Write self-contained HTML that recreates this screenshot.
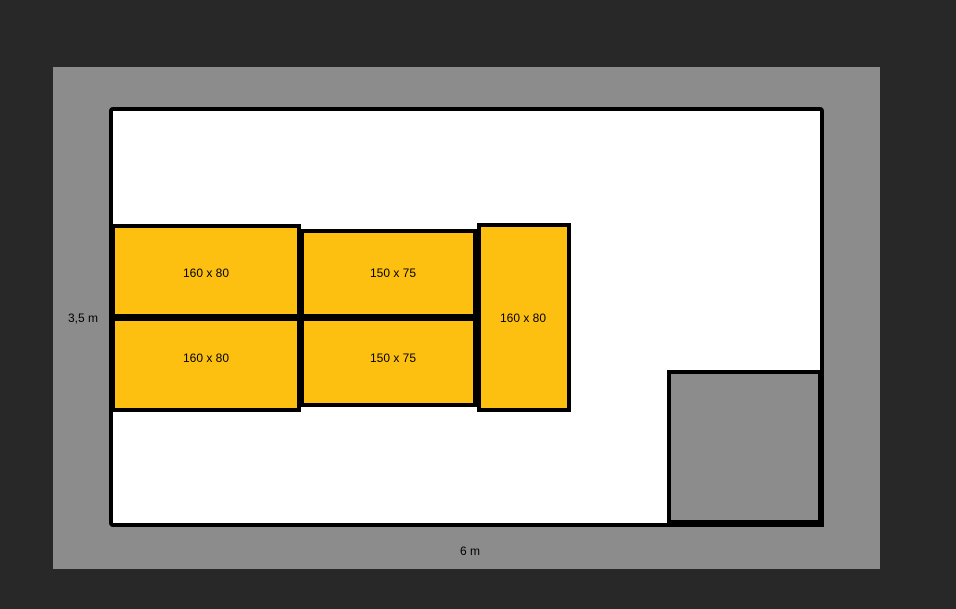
<!DOCTYPE html>
<html><head><meta charset="utf-8"><style>
html,body{margin:0;padding:0;background:#282828;}
svg{display:block}
text{font-family:"Liberation Sans",sans-serif;font-size:12px;fill:#000;text-anchor:middle}
</style></head><body>
<svg width="956" height="609" viewBox="0 0 956 609" xmlns="http://www.w3.org/2000/svg">
<rect x="0" y="0" width="956" height="609" fill="#282828"/>
<rect x="53" y="67" width="827" height="502" fill="#8c8c8c"/>
<rect x="111" y="109" width="711" height="416" rx="2" fill="#fff" stroke="#000" stroke-width="4"/>
<rect x="669" y="372" width="151" height="152" fill="#8c8c8c" stroke="#000" stroke-width="4"/>
<rect x="818" y="372" width="6" height="155" fill="#000"/>
<rect x="669" y="520" width="155" height="7" fill="#000"/>
<g fill="#fdc010" stroke="#000" stroke-width="4">
<rect x="113" y="226" width="186" height="91"/>
<rect x="113" y="319" width="186" height="91"/>
<rect x="302" y="231" width="173" height="86"/>
<rect x="302" y="319" width="173" height="86"/>
<rect x="479" y="225" width="90" height="185"/>
</g>
<rect x="113" y="314" width="362" height="6" fill="#000"/>
<text x="206" y="277">160 x 80</text>
<text x="206" y="362">160 x 80</text>
<text x="393" y="277">150 x 75</text>
<text x="393" y="362">150 x 75</text>
<text x="523" y="322">160 x 80</text>
<text x="83" y="322">3,5 m</text>
<text x="470" y="555">6 m</text>
</svg>
</body></html>
